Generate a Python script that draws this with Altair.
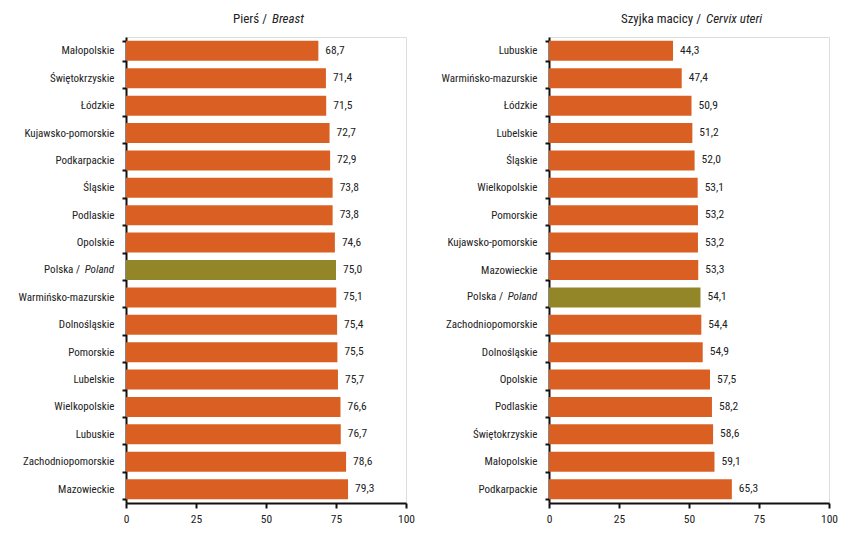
import altair as alt
import pandas as pd

breast_regions = ["Małopolskie", "Świętokrzyskie", "Łódzkie", "Kujawsko-pomorskie", "Podkarpackie",
                  "Śląskie", "Podlaskie", "Opolskie", "Polska / Poland", "Warmińsko-mazurskie",
                  "Dolnośląskie", "Pomorskie", "Lubelskie", "Wielkopolskie", "Lubuskie",
                  "Zachodniopomorskie", "Mazowieckie"]
breast_values = [68.7, 71.4, 71.5, 72.7, 72.9, 73.8, 73.8, 74.6, 75.0, 75.1, 75.4, 75.5, 75.7,
                 76.6, 76.7, 78.6, 79.3]

cervix_regions = ["Lubuskie", "Warmińsko-mazurskie", "Łódzkie", "Lubelskie", "Śląskie",
                  "Wielkopolskie", "Pomorskie", "Kujawsko-pomorskie", "Mazowieckie", "Polska / Poland",
                  "Zachodniopomorskie", "Dolnośląskie", "Opolskie", "Podlaskie", "Świętokrzyskie",
                  "Małopolskie", "Podkarpackie"]
cervix_values = [44.3, 47.4, 50.9, 51.2, 52.0, 53.1, 53.2, 53.2, 53.3, 54.1, 54.4, 54.9, 57.5,
                 58.2, 58.6, 59.1, 65.3]

x_ticks = [0, 25, 50, 75, 100]

FONT = "Roboto Condensed, Liberation Sans, Arial, sans-serif"
ORANGE = "#D96022"
OLIVE = "#938629"
POLAND = "Polska / Poland"
W, H = 280, 466
LAB = 11
VAL = 11.5
TTL = 13


def panel(regions, values, title_a, title_b, split_x, gap):
    df = pd.DataFrame({"region": regions, "value": values})
    df["is_pl"] = df["region"] == POLAND
    base = alt.Chart(df).encode(
        y=alt.Y("region:N", sort=regions, title=None,
                scale=alt.Scale(paddingInner=0.27, paddingOuter=0.14),
                axis=alt.Axis(tickBand="extent", tickSize=4, labelPadding=8,
                              labelFont=FONT, labelFontSize=LAB, labelColor="#222",
                              domainColor="#111", domainWidth=2, tickColor="#111", tickWidth=2,
                              labelExpr=f"datum.value == '{POLAND}' ? '' : datum.value")),
    )
    bars = base.mark_bar().encode(
        x=alt.X("value:Q", scale=alt.Scale(domain=[0, 100]), title=None,
                axis=alt.Axis(values=x_ticks, tickSize=5, labelPadding=5, labelFont=FONT,
                              labelFontSize=VAL, labelColor="#222", domainColor="#111",
                              domainWidth=2, tickColor="#111", tickWidth=2, grid=False,
                              labelFlush=False)),
        color=alt.condition(alt.datum.is_pl, alt.value(OLIVE), alt.value(ORANGE)),
    )
    labels = base.mark_text(align="left", baseline="middle", dx=7, font=FONT, fontSize=VAL,
                            color="#222").transform_calculate(
        lab="replace(format(datum.value, '.1f'), '.', ',')"
    ).encode(x="value:Q", text="lab:N")
    pl = df[df["is_pl"]]
    pl_a = alt.Chart(pl).mark_text(align="right", baseline="middle", font=FONT, fontSize=LAB,
                                   color="#222").encode(
        y=alt.Y("region:N", sort=regions), x=alt.value(-46), text=alt.value("Polska /"))
    pl_b = alt.Chart(pl).mark_text(align="right", baseline="middle", font=FONT, fontSize=LAB,
                                   fontStyle="italic", color="#222").encode(
        y=alt.Y("region:N", sort=regions), x=alt.value(-12), text=alt.value("Poland"))
    t_a = alt.Chart(pl).mark_text(align="right", baseline="alphabetic", font=FONT, fontSize=TTL,
                                  color="#222").encode(
        x=alt.value(split_x), y=alt.value(-14), text=alt.value(title_a))
    t_b = alt.Chart(pl).mark_text(align="left", baseline="alphabetic", font=FONT, fontSize=TTL,
                                  fontStyle="italic", color="#222").encode(
        x=alt.value(split_x + gap), y=alt.value(-14), text=alt.value(title_b))
    return alt.layer(bars, labels, pl_a, pl_b, t_a, t_b).properties(width=W, height=H)


left = panel(breast_regions, breast_values, "Pierś /", "Breast", 141, 5)
right = panel(cervix_regions, cervix_values, "Szyjka macicy /", "Cervix uteri", 152, 5)

chart = alt.hconcat(left, right, spacing=143, bounds="flush").properties(
    padding={"left": 9, "top": 4, "right": 0, "bottom": 0}
).configure_view(stroke=None).configure(background="white")

chart.save("out.html", embed_options={"renderer": "svg", "actions": False})
